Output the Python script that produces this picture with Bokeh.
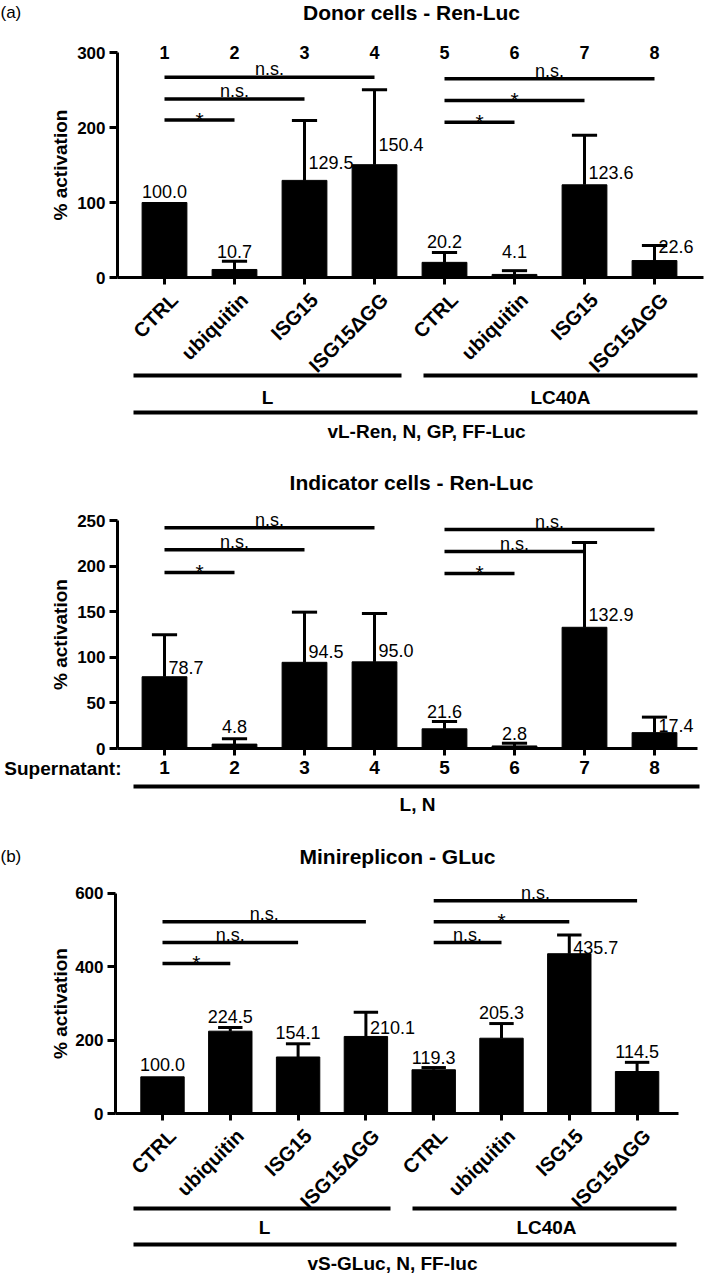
import math
from bokeh.plotting import figure
from bokeh.models import LinearAxis, FixedTicker
from bokeh.layouts import column
from bokeh.embed import file_html
from bokeh.resources import INLINE
from bokeh.core.properties import value

# ---------------- data ----------------
categories = ["CTRL", "ubiquitin", "ISG15", "ISG15\u0394GG",
              "CTRL", "ubiquitin", "ISG15", "ISG15\u0394GG"]
lane_numbers = ["1", "2", "3", "4", "5", "6", "7", "8"]
group_names = ["L", "LC40A"]

donor_values = [100.0, 10.7, 129.5, 150.4, 20.2, 4.1, 123.6, 22.6]
donor_errors = [0, 11, 80, 100, 13, 5, 66, 20]
donor_ticks = [0, 100, 200, 300]
donor_sig = ["*", "n.s.", "n.s.", "*", "*", "n.s."]

indicator_values = [78.7, 4.8, 94.5, 95.0, 21.6, 2.8, 132.9, 17.4]
indicator_errors = [46, 6, 55, 53, 8, 3, 93, 17]
indicator_ticks = [0, 50, 100, 150, 200, 250]
indicator_sig = ["*", "n.s.", "n.s.", "*", "n.s.", "n.s."]

minirep_values = [100.0, 224.5, 154.1, 210.1, 119.3, 205.3, 435.7, 114.5]
minirep_errors = [0, 10, 36, 66, 6, 40, 51, 25]
minirep_ticks = [0, 200, 400, 600]
minirep_sig = ["*", "n.s.", "n.s.", "n.s.", "*", "n.s."]

comparisons = [(1, 2), (1, 3), (1, 4), (5, 6), (5, 7), (5, 8)]

# ---------------- layout / style ----------------
FONT = "Liberation Sans"
W = 707
PAGE = 0
ANGLE = math.pi / 4


def make_panel(g, values, errors, ticks, sig, levels, modes, dys):
    top, H, zero, ppu, x1, sp = g["top"], g["H"], g["zero"], g["ppu"], g["x1"], g["sp"]

    def V(ypage):
        return (zero - ypage) / ppu

    def I(xpage):
        return 1 + (xpage - x1) / sp

    p = figure(width=W, height=H,
               x_range=(I(PAGE), I(PAGE + W)),
               y_range=(V(top + H), V(top)),
               x_axis_type=None, y_axis_type=None,
               output_backend="svg", toolbar_location=None,
               min_border=0, outline_line_color=None)
    p.background_fill_color = "white"
    p.border_fill_color = "white"

    def txt(x, y, s, size, bold=True, align="center", angle=0.0, xo=0, yo=0):
        p.text(x=[x], y=[y], text=[s], text_font=value(FONT),
               text_font_size=f"{size}px",
               text_font_style="bold" if bold else "normal",
               text_align=align, text_baseline="middle", angle=angle,
               x_offset=xo, y_offset=yo, text_color="black")

    idx = list(range(1, len(values) + 1))

    # bars
    p.vbar(x=idx, top=values, bottom=0, width=0.64, color="black")

    # error bars (upper only)
    ex = [i for i, e in zip(idx, errors) if e > 0]
    ev = [v for v, e in zip(values, errors) if e > 0]
    et = [v + e for v, e in zip(values, errors) if e > 0]
    p.segment(x0=ex, y0=ev, x1=ex, y1=et, line_color="black", line_width=3)
    p.segment(x0=[x - 0.18 for x in ex], y0=et, x1=[x + 0.18 for x in ex], y1=et,
              line_color="black", line_width=3)

    # value labels (dy = gap of the text bottom from its anchor, in px)
    for i, v, e, m, dy in zip(idx, values, errors, modes, dys):
        s = f"{v:.1f}"
        if m == "a":
            txt(i, v + e, s, 18, bold=False, yo=dy - 6)
        else:
            txt(i, v, s, 18, bold=False, align="left", xo=4, yo=dy - 6)

    # significance brackets
    for (a, b), lev, s in zip(comparisons, levels, sig):
        p.segment(x0=[a], y0=[lev], x1=[b], y1=[lev], line_color="black", line_width=3.5)
        if s == "*":
            txt((a + b) / 2, lev, s, 21, bold=False, yo=-1)
        else:
            txt((a + b) / 2, lev, s, 18, bold=False, yo=-8)

    # y axis
    yax = LinearAxis(fixed_location=I(g["ax0"]), bounds=(0, ticks[-1]),
                     ticker=FixedTicker(ticks=ticks, minor_ticks=[]),
                     axis_line_width=3, axis_line_color="black",
                     major_tick_line_width=3, major_tick_line_color="black",
                     major_tick_out=8, major_tick_in=0,
                     minor_tick_line_color=None,
                     major_label_standoff=4,
                     major_label_text_font=FONT, major_label_text_font_size="17px",
                     major_label_text_font_style="bold", major_label_text_color="black")
    p.add_layout(yax, "left")
    txt(I(60), ticks[-1] / 2, "% activation", 19, angle=math.pi / 2)
    return p, txt, V, I


def add_xaxis(p, I, g, labels, orientation, size, standoff):
    xax = LinearAxis(fixed_location=0, bounds=(I(g["ax0"]), I(g["ax1"])),
                     ticker=FixedTicker(ticks=list(range(1, 9)), minor_ticks=[]),
                     major_label_overrides={i + 1: lab for i, lab in enumerate(labels)},
                     major_label_orientation=orientation,
                     axis_line_width=3, axis_line_color="black",
                     major_tick_line_width=3, major_tick_line_color="black",
                     major_tick_out=7, major_tick_in=0,
                     minor_tick_line_color=None,
                     major_label_standoff=standoff,
                     major_label_text_font=FONT, major_label_text_font_size=f"{size}px",
                     major_label_text_font_style="bold", major_label_text_color="black")
    p.add_layout(xax, "below")
    return xax


def add_category_labels(p, txt):
    # rotated treatment labels under the axis
    for i, lab in enumerate(categories):
        txt(i + 1, 0, lab, 20, align="right", angle=ANGLE, xo=10, yo=19)


# ---------- panel (a) donor ----------
ga = dict(top=0, H=445, zero=277, ppu=0.75, x1=164, sp=70, ax0=117, ax1=703)
pa, ta, Va, Ia = make_panel(ga, donor_values, donor_errors, donor_ticks, donor_sig,
                            [210, 238, 267, 207, 236, 265],
                            ["a", "a", "r", "r", "a", "a", "r", "r"],
                            [-5, -4, -12, -14, -5, -13, -6, -8])
xa = add_xaxis(pa, Ia, ga, [""] * 8, "horizontal", 10, 0)
xa.major_label_text_alpha = 0
add_category_labels(pa, ta)
for i, s in enumerate(lane_numbers):
    ta(i + 1, donor_ticks[-1], s, 18)
ta(Ia(0), Va(12), "(a)", 17, bold=False, align="left")
ta(Ia(411), Va(12), "Donor cells - Ren-Luc", 21)
pa.segment(x0=[Ia(133), Ia(423)], y0=[Va(375)] * 2, x1=[Ia(401), Ia(697)], y1=[Va(375)] * 2,
           line_color="black", line_width=4)
ta(Ia(267), Va(397), group_names[0], 19)
ta(Ia(560), Va(397), group_names[1], 19)
pa.segment(x0=[Ia(133)], y0=[Va(412)], x1=[Ia(697)], y1=[Va(412)], line_color="black", line_width=4)
ta(Ia(426), Va(431), "vL-Ren, N, GP, FF-Luc", 19)

# ---------- indicator ----------
gi = dict(top=445, H=385, zero=748, ppu=0.912, x1=164, sp=70, ax0=117, ax1=697)
pi_, ti, Vi, Ii = make_panel(gi, indicator_values, indicator_errors, indicator_ticks, indicator_sig,
                             [193, 218, 242, 192, 216, 240],
                             ["r", "a", "r", "r", "a", "a", "r", "r"],
                             [-3, -6, -5, -5, -4, -4, -7, -1])
add_xaxis(pi_, Ii, gi, lane_numbers, "horizontal", 19, 5)
ti(Ii(121), Vi(768), "Supernatant:", 19, align="right")
ti(Ii(411), Vi(482), "Indicator cells - Ren-Luc", 21)
pi_.segment(x0=[Ii(133)], y0=[Vi(786)], x1=[Ii(699)], y1=[Vi(786)], line_color="black", line_width=4)
ti(Ii(417), Vi(804), "L, N", 19)

# ---------- panel (b) minireplicon ----------
gb = dict(top=830, H=445, zero=1113, ppu=0.3667, x1=162, sp=67.8, ax0=115, ax1=678)
pb, tb, Vb, Ib = make_panel(gb, minirep_values, minirep_errors, minirep_ticks, minirep_sig,
                            [409, 466, 523, 466, 523, 580],
                            ["a", "a", "a", "r", "a", "a", "r", "a"],
                            [-6, -5, -5, -3, -4, -5, 0, -5])
xb = add_xaxis(pb, Ib, gb, [""] * 8, "horizontal", 10, 0)
xb.major_label_text_alpha = 0
add_category_labels(pb, tb)
tb(Ib(0), Vb(856), "(b)", 17, bold=False, align="left")
tb(Ib(397), Vb(856), "Minireplicon - GLuc", 21)
pb.segment(x0=[Ib(133), Ib(412)], y0=[Vb(1208)] * 2, x1=[Ib(390), Ib(676)], y1=[Vb(1208)] * 2,
           line_color="black", line_width=4)
tb(Ib(264), Vb(1227), group_names[0], 19)
tb(Ib(546), Vb(1227), group_names[1], 19)
pb.segment(x0=[Ib(133)], y0=[Vb(1244)], x1=[Ib(676)], y1=[Vb(1244)], line_color="black", line_width=4)
tb(Ib(392), Vb(1263), "vS-GLuc, N, FF-luc", 19)

layout = column(pa, pi_, pb, spacing=0)
open("out.html", "w").write(file_html(layout, INLINE))
